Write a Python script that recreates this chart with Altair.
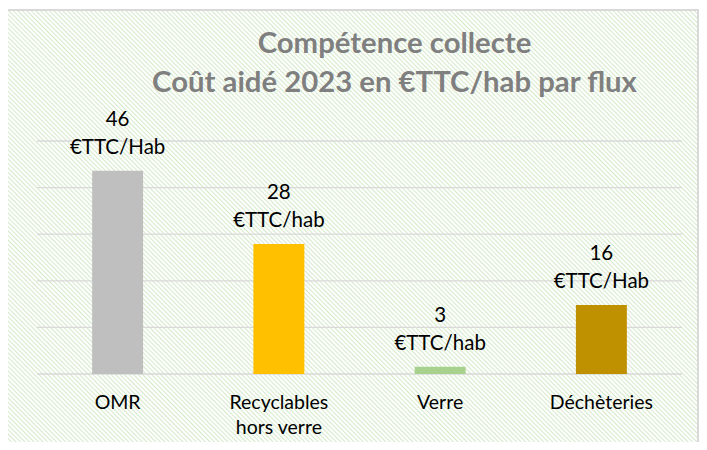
import altair as alt
import pandas as pd

# ---- data ----
categories = ["OMR", "Recyclables|hors verre", "Verre", "Déchèteries"]
bar_values = [43.6, 27.9, 1.55, 14.8]          # bar heights on the 0-50 scale
label_values = [46, 28, 3, 16]                  # numbers written in the data labels
label_units = ["€TTC/Hab", "€TTC/hab", "€TTC/hab", "€TTC/Hab"]
bar_colors = ["#bfbfbf", "#ffc000", "#a9d18e", "#bf9000"]
grid_values = [0, 10, 20, 30, 40, 50]
title_lines = ["Compétence collecte", "Coût aidé 2023 en €TTC/hab par flux"]

FONT = "Lato"

df = pd.DataFrame({
    "cat": categories,
    "value": bar_values,
    "label": [f"{v}\n{u}" for v, u in zip(label_values, label_units)],
})
grid_df = pd.DataFrame({"tick": grid_values})
one = pd.DataFrame({"a": [0]})

# ---- hatched background (light green diagonal stripes) as a gradient ----
W, H = 691.0, 450.0
r = H / W
s = (1 + r) / (1 + r * r)
N = 253
GREEN = "#d5eacb"
stops = []
for i in range(N):
    stops.append(alt.GradientStop(offset=round(i / N, 6), color=GREEN))
    stops.append(alt.GradientStop(offset=round((i + 0.32) / N, 6), color="#ffffff"))
    stops.append(alt.GradientStop(offset=round((i + 0.68) / N, 6), color="#ffffff"))
stops.append(alt.GradientStop(offset=1.0, color=GREEN))
hatch = alt.LinearGradient(
    gradient="linear", stops=stops,
    x1=0, y1=1, x2=round(s, 5), y2=round(1 - s * r, 5),
)

PLOT_W, PLOT_H = 645, 233

background = alt.Chart(one).mark_rect(
    fill=hatch, stroke="#d9d9d9", strokeWidth=2
).encode(
    x=alt.value(-30), x2=alt.value(661), y=alt.value(-131), y2=alt.value(319)
)

y_scale = alt.Scale(domain=[0, 50], nice=False)

grid = alt.Chart(grid_df).mark_rule(color="#d9d9d9", strokeWidth=1.3).encode(
    y=alt.Y("tick:Q", scale=y_scale, axis=None)
)

x_enc = alt.X(
    "cat:N", sort=categories,
    scale=alt.Scale(paddingInner=0.684, paddingOuter=0.342),
    axis=alt.Axis(
        title=None, ticks=False, domain=False, labelAngle=0, zindex=1,
        labelExpr="split(datum.label, '|')",
        labelFont=FONT, labelFontSize=19.5, labelColor="#000000",
        labelPadding=19, labelLineHeight=25,
    ),
)

bars = alt.Chart(df).mark_bar().encode(
    x=x_enc,
    y=alt.Y("value:Q", scale=y_scale, axis=None),
    color=alt.Color("cat:N", scale=alt.Scale(domain=categories, range=bar_colors), legend=None),
)

labels = alt.Chart(df).mark_text(
    lineBreak="\n", baseline="alphabetic", dy=-45, font=FONT, fontSize=20.5,
    color="#000000", lineHeight=28,
).encode(
    x=x_enc,
    y=alt.Y("value:Q", scale=y_scale, axis=None),
    text="label:N",
)

chart = alt.layer(background, grid, bars, labels).properties(
    width=PLOT_W, height=PLOT_H,
    autosize=alt.AutoSizeParams(type="none"),
    padding={"left": 29, "top": 133, "right": 17, "bottom": 68},
    title=alt.TitleParams(
        text=title_lines, font=FONT, fontSize=29.3, fontWeight="bold",
        color="#7f7f7f", anchor="middle", frame="group", dx=35, offset=-89,
        lineHeight=39,
    ),
).configure_view(stroke=None).configure(background="#ffffff")

chart.save("out.html", embed_options={"renderer": "svg", "actions": False})
